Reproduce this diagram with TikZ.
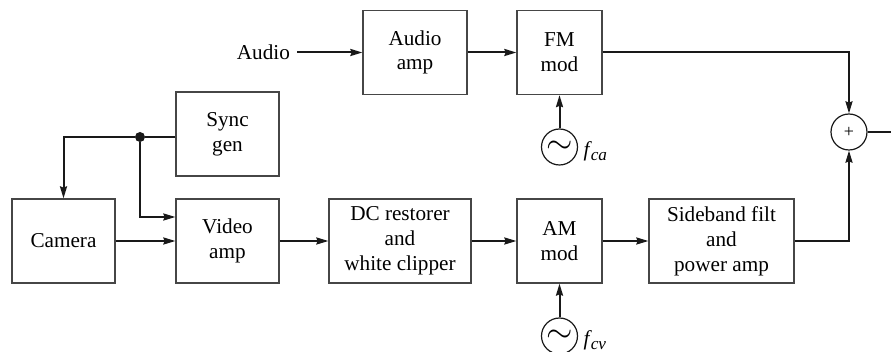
\documentclass[tikz,border=0pt]{standalone}
\usepackage{fontspec}
\setmainfont{Liberation Serif}
\usetikzlibrary{arrows.meta, positioning}
\definecolor{boxline}{RGB}{70,70,70}
\definecolor{wire}{RGB}{25,25,25}

\begin{document}
\begin{tikzpicture}[
        x=0.5pt, y=-0.5pt,
        blk/.style={draw=boxline, line width=0.6pt, minimum height=42pt,
                    align=center, inner sep=0pt,
                    font=\fontsize{10.6}{12.4}\selectfont},
        osc/.style={draw=wire, circle, line width=0.6pt,
                    minimum size=18pt, inner sep=0pt},
        arr/.style={-{Stealth[length=6pt, width=3.5pt, inset=0.6pt]}, line width=1pt, wire},
        wr/.style={line width=1pt, wire},
        dot/.style={circle, fill=wire, minimum size=5pt, inner sep=0pt},
        lbl/.style={font=\fontsize{10.6}{12.4}\selectfont},
        sub/.style={lbl, yshift=-2pt, inner sep=1pt},
      ]
        \useasboundingbox (0,0) rectangle (891,352);

        % Audio chain
        \node[lbl, anchor=east] (audio) at (297,52.5) {Audio};
        \node[blk, minimum width=52pt]   (aamp) at (415,52.5)  {Audio\\amp};
        \node[blk, minimum width=42.5pt] (fm)   at (559.5,52.5) {FM\\mod};
        \node[osc] (oca) at (559.5,147) {\scalebox{1.7}{$\sim$}};
        \node[sub, right=1.5pt of oca] (fca)
          {\textit{f}\kern-0.5pt{\fontsize{8.6}{9}\selectfont\raisebox{-2.2pt}{\textit{ca}}}};

        % Video chain
        \node[blk, minimum width=51.5pt] (sync) at (227.5,134) {Sync\\gen};
        \node[blk, minimum width=51.5pt] (cam)  at (63.5,241)  {Camera};
        \node[blk, minimum width=51.5pt] (vamp) at (227.5,241) {Video\\amp};
        \node[blk, minimum width=71pt]   (dc)   at (400,241)   {DC restorer\\and\\white clipper};
        \node[blk, minimum width=42.5pt] (am)   at (559.5,241) {AM\\mod};
        \node[blk, minimum width=72.5pt] (sbf)  at (721.5,241) {Sideband filt\\and\\power amp};
        \node[osc] (ocv) at (559.5,336) {\scalebox{1.7}{$\sim$}};
        \node[sub, right=1.5pt of ocv] (fcv)
          {\textit{f}\kern-0.5pt{\fontsize{8.6}{9}\selectfont\raisebox{-2.2pt}{\textit{cv}}}};

        % Combiner
        \node[osc] (sum) at (849,132) {\small +};
        \node[dot] (jn) at (140,137) {};
        \coordinate (out) at (906,132);

        % Audio paths
        \draw[arr] (audio) -- (aamp);
        \draw[arr] (aamp) -- (fm);
        \draw[arr] (oca) -- (fm);
        \draw[arr] (fm) -| (sum);

        % Sync distribution
        \draw[wr] (sync.west |- jn) -- (jn);
        \draw[arr] (jn) -| (cam.north);
        \draw[arr] (jn) |- ([yshift=12pt]vamp.west);

        % Video paths
        \draw[arr] (cam) -- (vamp);
        \draw[arr] (vamp) -- (dc);
        \draw[arr] (dc) -- (am);
        \draw[arr] (ocv) -- (am);
        \draw[arr] (am) -- (sbf);
        \draw[arr] (sbf) -| (sum);
        \draw[arr] (sum) -- (out);
      \end{tikzpicture}
\end{document}
